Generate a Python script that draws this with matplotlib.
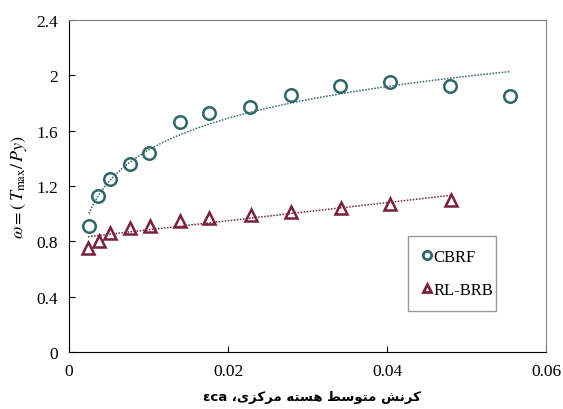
import numpy as np
import matplotlib.pyplot as plt
from matplotlib.lines import Line2D

# CBRF measurements
cbrf_strain = [0.0025, 0.0037, 0.0051, 0.0077, 0.0101, 0.0139, 0.0176, 0.0228,
               0.0279, 0.0341, 0.0404, 0.0479, 0.0555]
cbrf_omega = [0.91, 1.13, 1.25, 1.36, 1.44, 1.66, 1.73, 1.77,
              1.86, 1.92, 1.95, 1.92, 1.85]

# RL-BRB measurements
brb_strain = [0.0024, 0.0038, 0.0051, 0.0077, 0.0102, 0.0140, 0.0176, 0.0229,
              0.0279, 0.0342, 0.0404, 0.0480]
brb_omega = [0.75, 0.80, 0.86, 0.90, 0.91, 0.95, 0.97, 0.99,
             1.01, 1.04, 1.07, 1.10]

x_ticks = [0, 0.02, 0.04, 0.06]
x_tick_labels = ["0", "0.02", "0.04", "0.06"]
y_ticks = [0, 0.4, 0.8, 1.2, 1.6, 2.0, 2.4]
y_tick_labels = ["0", "0.4", "0.8", "1.2", "1.6", "2", "2.4"]

X_LABEL_FA = "کرنش متوسط هسته مرکزی،"
X_LABEL_SYMBOL = "εca"

CBRF_COLOR = "#2f676b"
BRB_COLOR = "#7a1f3e"

# presentation forms: isolated, final, initial, medial (None = right-joining only)
FORMS = {
    "ک": ("\uFB8E", "\uFB8F", "\uFB90", "\uFB91"),
    "ر": ("\uFEAD", "\uFEAE", None, None),
    "ن": ("\uFEE5", "\uFEE6", "\uFEE7", "\uFEE8"),
    "ش": ("\uFEB5", "\uFEB6", "\uFEB7", "\uFEB8"),
    "م": ("\uFEE1", "\uFEE2", "\uFEE3", "\uFEE4"),
    "ت": ("\uFE95", "\uFE96", "\uFE97", "\uFE98"),
    "و": ("\uFEED", "\uFEEE", None, None),
    "س": ("\uFEB1", "\uFEB2", "\uFEB3", "\uFEB4"),
    "ط": ("\uFEC1", "\uFEC2", "\uFEC3", "\uFEC4"),
    "ه": ("\uFEE9", "\uFEEA", "\uFEEB", "\uFEEC"),
    "ز": ("\uFEAF", "\uFEB0", None, None),
    "ی": ("\uFBFC", "\uFBFD", "\uFBFE", "\uFBFF"),
}


def shape_persian(text):
    # contextual forms, then reversed into visual (left-to-right) order
    out = []
    for i, ch in enumerate(text):
        if ch not in FORMS:
            out.append(ch)
            continue
        prev = text[i - 1] if i > 0 else ""
        nxt = text[i + 1] if i + 1 < len(text) else ""
        join_prev = prev in FORMS and FORMS[prev][2] is not None
        join_next = FORMS[ch][2] is not None and nxt in FORMS
        iso, fin, ini, med = FORMS[ch]
        if join_prev and join_next:
            out.append(med)
        elif join_prev:
            out.append(fin)
        elif join_next:
            out.append(ini)
        else:
            out.append(iso)
    return "".join(reversed(out))


plt.rcParams["font.family"] = ["Liberation Serif", "DejaVu Serif"]
plt.rcParams["mathtext.fontset"] = "stix"

fig = plt.figure(figsize=(5.63, 4.10), dpi=100)
ax = fig.add_axes([0.1226, 0.139, 0.8474, 0.8098])

# trend lines fitted to the measurements
cx = np.array(cbrf_strain)
a, b = np.polyfit(np.log(cx), np.array(cbrf_omega), 1)
fit_x = np.linspace(cx.min(), cx.max(), 200)
ax.plot(fit_x, a * np.log(fit_x) + b, linestyle=(0, (1, 1)),
        color=CBRF_COLOR, linewidth=1.1)

bx = np.array(brb_strain)
m, c = np.polyfit(bx, np.array(brb_omega), 1)
fit_bx = np.linspace(bx.min(), bx.max(), 50)
ax.plot(fit_bx, m * fit_bx + c, linestyle=(0, (1, 1)),
        color=BRB_COLOR, linewidth=1.1)

ax.plot(cbrf_strain, cbrf_omega, linestyle="none", marker="o",
        markersize=9, markerfacecolor="none", markeredgecolor=CBRF_COLOR,
        markeredgewidth=1.8)
ax.plot(brb_strain, brb_omega, linestyle="none", marker="^",
        markersize=9, markerfacecolor="none", markeredgecolor=BRB_COLOR,
        markeredgewidth=1.8)

ax.set_xlim(0, 0.06)
ax.set_ylim(0, 2.4)
ax.set_xticks(x_ticks)
ax.set_xticklabels(x_tick_labels)
ax.set_yticks(y_ticks)
ax.set_yticklabels(y_tick_labels)
ax.tick_params(direction="in", length=4, labelsize=12.5, pad=8)

for side in ["top", "right"]:
    ax.spines[side].set_color("#808080")
for side in ["left", "bottom"]:
    ax.spines[side].set_color("black")

ax.set_ylabel(r"$\omega = (\,T_{\rm max}/\,Py)$", fontsize=13, labelpad=5)

fig.text(0.554, 0.015, X_LABEL_SYMBOL + " " + shape_persian(X_LABEL_FA),
         ha="center", va="bottom", fontsize=9.5, fontweight="bold",
         family=["DejaVu Sans"])

handles = [
    Line2D([], [], linestyle="none", marker="o", markersize=6,
           markerfacecolor="none", markeredgecolor=CBRF_COLOR,
           markeredgewidth=2.0, label="CBRF"),
    Line2D([], [], linestyle="none", marker="^", markersize=6,
           markerfacecolor="none", markeredgecolor=BRB_COLOR,
           markeredgewidth=2.0, label="RL-BRB"),
]
leg = ax.legend(handles=handles, loc="lower left",
                bbox_to_anchor=(0.711, 0.123, 0.184, 0.187), mode="expand",
                fontsize=12, handlelength=0.6, handletextpad=0.1,
                labelspacing=1.0, borderaxespad=0, fancybox=False,
                borderpad=0.8)
leg.get_frame().set_edgecolor("#808080")
leg.get_frame().set_linewidth(1.0)

fig.savefig("out.png", dpi=100)
